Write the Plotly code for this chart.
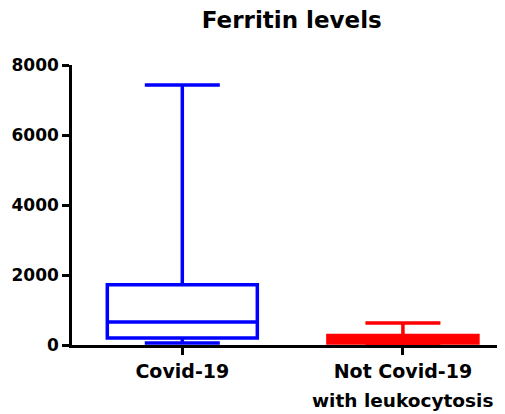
import plotly.graph_objects as go

groups = ["Covid-19", "Not Covid-19"]
group_sub = ["", "with leukocytosis"]
x_pos = [0, 1]
q1 = [200, 60]
median = [660, 150]
q3 = [1720, 270]
lower = [60, 20]
upper = [7430, 630]
colors = ["#0000FF", "#FF0000"]
y_ticks = [0, 2000, 4000, 6000, 8000]

FONT = "DejaVu Sans"

fig = go.Figure()
for i in range(2):
    fig.add_trace(go.Box(
        x=[x_pos[i]], q1=[q1[i]], median=[median[i]], q3=[q3[i]],
        lowerfence=[lower[i]], upperfence=[upper[i]],
        width=0.68, whiskerwidth=0.5,
        line=dict(color=colors[i], width=3.5),
        fillcolor="rgba(0,0,0,0)" if i == 0 else colors[i],
        boxpoints=False, showlegend=False, hoverinfo="skip"))

# second line of the category labels, set with wider spacing as in the reference
for i in range(2):
    if group_sub[i]:
        fig.add_annotation(x=x_pos[i], xref="x", y=-0.197, yref="paper",
                           yanchor="middle", showarrow=False,
                           text="<b>%s</b>" % group_sub[i],
                           font=dict(family=FONT, size=18.5, color="black"))

# page body has an 8px default margin, so the figure is 8px smaller
fig.update_layout(
    width=497, height=406,
    margin=dict(l=64, r=5, t=57, b=69),
    plot_bgcolor="white", paper_bgcolor="white",
    title=dict(text="<b>Ferritin levels</b>", x=0.571, xanchor="center",
               y=0.97, yanchor="middle",
               font=dict(family=FONT, size=23, color="black")),
    font=dict(family=FONT, size=17, color="black"),
)
fig.update_xaxes(range=[-0.5, 1.44], tickvals=x_pos,
                 ticktext=["<b>%s</b>" % g for g in groups],
                 tickfont=dict(size=19),
                 showline=True, linecolor="black", linewidth=2.5,
                 ticks="outside", ticklen=7, tickwidth=2.5, tickcolor="black",
                 showgrid=False, zeroline=False)
fig.update_yaxes(range=[0, 8000], tickvals=y_ticks,
                 ticktext=["<b>%d</b>" % v for v in y_ticks],
                 tickfont=dict(size=17),
                 showline=True, linecolor="black", linewidth=2.5,
                 ticks="outside", ticklen=7, tickwidth=2.5, tickcolor="black",
                 showgrid=False, zeroline=False)
fig.write_html("out.html")
